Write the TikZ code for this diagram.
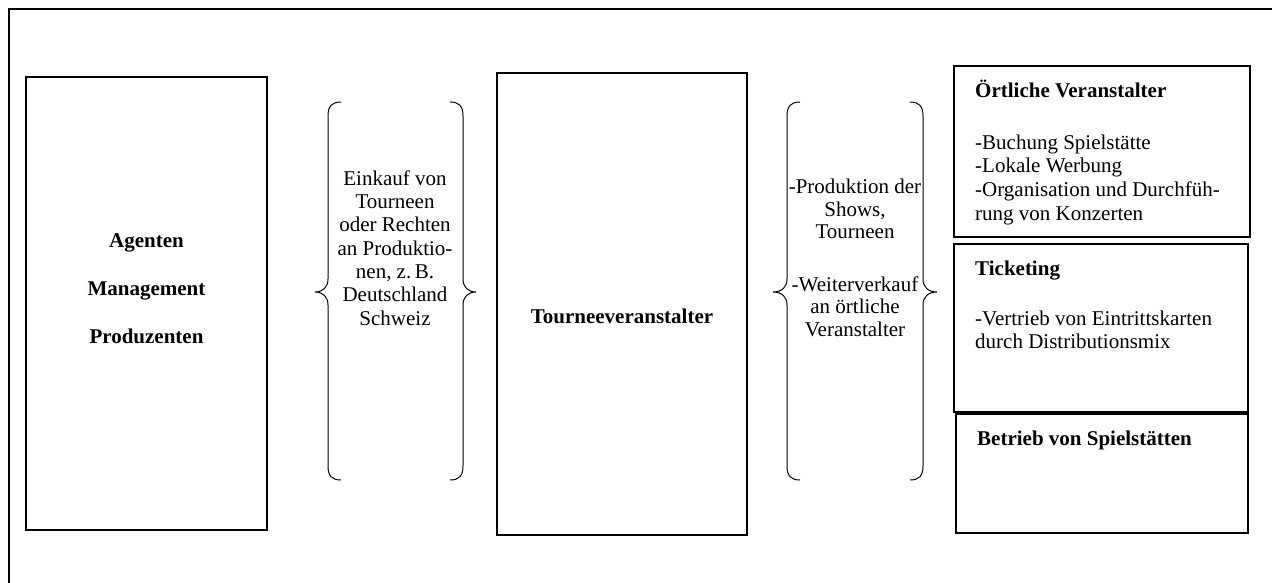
\documentclass[tikz,border=0pt]{standalone}
\usepackage{fontspec}
\setmainfont{Liberation Serif}
\begin{document}
\begin{tikzpicture}[x=1pt,y=-1pt,
  box/.style={draw=black, line width=1.1pt, inner sep=0pt, fill=none},
  frame/.style={draw=black, line width=1.4pt},
  brace/.style={draw=black, line width=1pt},
  txt/.style={font=\fontsize{21}{23.3}\selectfont, inner sep=0pt, align=center},
  ltxt/.style={font=\fontsize{21}{23.6}\selectfont, inner sep=0pt, align=left},
  btxt/.style={font=\fontsize{21}{23.3}\selectfont\bfseries, inner sep=0pt}]
\useasboundingbox (0,0) rectangle (1272,582);
% outer frame (only top and left edges visible)
\coordinate (fbl) at (9,585);
\coordinate (ftl) at (9,9);
\coordinate (ftr) at (1275,9);
\draw[frame] (fbl) -- (ftl) -- (ftr);
% boxes
\node[box, minimum width=241pt, minimum height=453pt] (ag) at (146.5,303.5) {};
\node[box, minimum width=250pt, minimum height=462pt] (tv) at (622,304) {};
\node[box, minimum width=296pt, minimum height=171pt] (ov) at (1102,151.5) {};
\node[box, minimum width=294pt, minimum height=168pt] (ti) at (1101,328) {};
\node[box, minimum width=292pt, minimum height=119pt] (bs) at (1102,473.5) {};
% texts in boxes
\node[txt, font=\fontsize{21}{23.3}\selectfont\bfseries] (agtext) at (146.5,288.5) {Agenten\\[25pt]Management\\[25pt]Produzenten};
\node[btxt, anchor=base] (tvtext) at (622,323) {Tourneeveranstalter};
\node[btxt, anchor=base west] (ovtitle) at (975,97) {Örtliche Veranstalter};
\node[ltxt, anchor=north west] (ovbody) at (975,134.5) {-Buchung Spielstätte\\-Lokale Werbung\\-Organisation und Durchfüh-\\rung von Konzerten};
\node[btxt, anchor=base west] (tititle) at (975,275) {Ticketing};
\node[ltxt, anchor=north west] (tibody) at (975,310.5) {-Vertrieb von Eintrittskarten\\durch Distributionsmix};
\node[btxt, anchor=base west] (bstitle) at (977,445) {Betrieb von Spielstätten};
% brace 1
\draw[brace] (341,102) .. controls (332,102) and (328,106) .. (328,116) -- (328,279)
  .. controls (328,287) and (323,292) .. (315,292) .. controls (323,292) and (328,297) .. (328,305)
  -- (328,466) .. controls (328,476) and (332,480) .. (341,480);
\draw[brace] (450,102) .. controls (459,102) and (463,106) .. (463,116) -- (463,279)
  .. controls (463,287) and (468,292) .. (476,292) .. controls (468,292) and (463,297) .. (463,305)
  -- (463,466) .. controls (463,476) and (459,480) .. (450,480);
\node[txt] (b1text) at (395,248) {Einkauf von\\Tourneen\\oder Rechten\\an Produktio-\\nen, z.\,B.\\Deutschland\\Schweiz};
% brace 2
\draw[brace] (800,102) .. controls (791,102) and (787,106) .. (787,116) -- (787,279)
  .. controls (787,287) and (782,292) .. (773,292) .. controls (782,292) and (787,297) .. (787,305)
  -- (787,466) .. controls (787,476) and (791,480) .. (800,480);
\draw[brace] (910,102) .. controls (919,102) and (923,106) .. (923,116) -- (923,279)
  .. controls (923,287) and (928,292) .. (937,292) .. controls (928,292) and (923,297) .. (923,305)
  -- (923,466) .. controls (923,476) and (919,480) .. (910,480);
\node[txt, font=\fontsize{21}{22.5}\selectfont] (b2text) at (855,258) {-Produktion der\\Shows,\\Tourneen\\[30pt]-Weiterverkauf\\an örtliche\\Veranstalter};
\end{tikzpicture}
\end{document}
